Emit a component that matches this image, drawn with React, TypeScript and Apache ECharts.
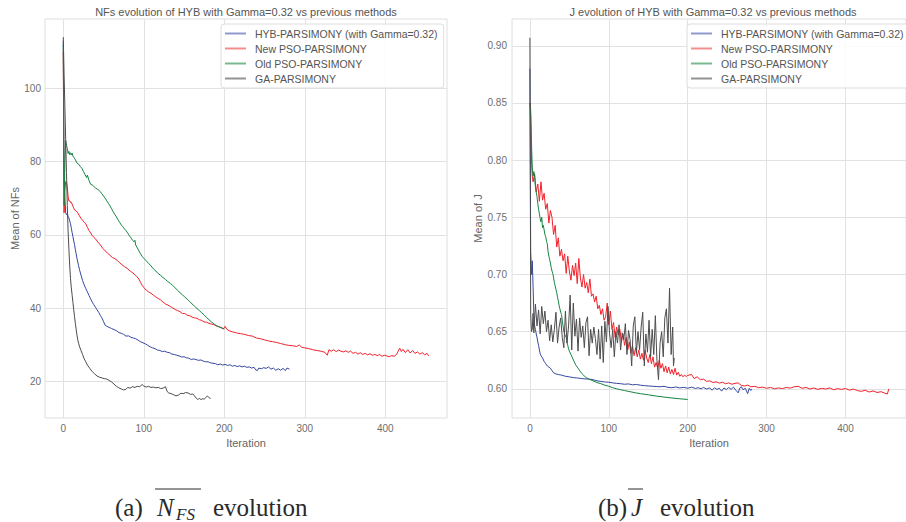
import React, { useEffect, useRef } from "react";
import * as echarts from "echarts";

const seriesNames = [
  "HYB-PARSIMONY (with Gamma=0.32)",
  "New PSO-PARSIMONY",
  "Old PSO-PARSIMONY",
  "GA-PARSIMONY",
];
const lineColors = ["#34489e", "#f3202a", "#138541", "#4d4d4d"];
const legendColors = ["#8e9acb", "#f48e8e", "#79b990", "#939393"];

const xTicks = [0, 100, 200, 300, 400];
const nfsTicks = [20, 40, 60, 80, 100];
const jTicks = [0.6, 0.65, 0.7, 0.75, 0.8, 0.85, 0.9];

const titleNfs = "NFs evolution of HYB with Gamma=0.32 vs previous methods";
const titleJ = "J evolution of HYB with Gamma=0.32 vs previous methods";

// ---- Mean of NFs (left) : [iteration, value]
const hybNfs = [
  [0, 113], [1, 74.5], [2, 70], [3, 66], [4, 65.5], [5, 65.8], [6, 65], [7, 64.6], [8, 63.8], [9, 63],
  [10, 61.8], [11, 60.6], [12, 59.5], [13, 58.3], [14, 57.3], [15, 56], [16, 54.8], [17, 53.6], [18, 52.6],
  [19, 51.6], [20, 50.6], [22, 49], [24, 47.5], [26, 46.3], [28, 45.3], [30, 44.4], [32, 43.4], [34, 42.5],
  [36, 41.6], [38, 40.9], [40, 40.2], [42, 39.5], [44, 38.8], [46, 38], [48, 37.3], [50, 36.3], [52, 35.3],
  [54, 35], [57, 34.7], [60, 34.4], [63, 34.1], [66, 33.8], [69, 33.3], [72, 33.1], [75, 32.8], [78, 32.3],
  [81, 32.4], [84, 32], [87, 31.8], [90, 31.6], [93, 31.2], [96, 30.8], [99, 30.5], [102, 30.2], [105, 29.8],
  [108, 29.4], [111, 29.1], [114, 28.9], [117, 28.5], [120, 28.4], [123, 28.1], [126, 28.2], [129, 27.9],
  [132, 27.8], [135, 27.4], [138, 27.3], [141, 27.1], [144, 26.9], [147, 26.6], [150, 26.7], [153, 26.4],
  [156, 26.3], [159, 25.9], [162, 26.1], [165, 25.9], [168, 25.7], [171, 25.8], [174, 25.5], [177, 25.3],
  [180, 25.3], [183, 25], [186, 24.9], [189, 24.8], [192, 24.5], [195, 24.7], [198, 24.4], [201, 24.6],
  [204, 24.3], [207, 24.5], [210, 24.1], [213, 24.3], [216, 24], [219, 24.2], [222, 23.9], [225, 24.1],
  [228, 23.8], [231, 23.9], [234, 23.6], [237, 23.8], [239, 23.1], [241, 22.9], [243, 23.6], [246, 23.4],
  [249, 23.7], [252, 23.5], [255, 23.9], [258, 23.3], [261, 23.6], [264, 23.0], [267, 23.4], [270, 23.0],
  [273, 23.5], [276, 22.9], [278, 23.6], [281, 23.3],
];

const newPsoNfs = [
  [0, 110], [1, 66], [2, 72], [3, 74.6], [4, 74.4], [5, 73], [6, 70.5], [7, 69.2], [8, 69.3], [9, 68.8],
  [10, 68.9], [12, 67.8], [14, 66.8], [16, 66.5], [18, 66], [20, 65.2], [22, 64.5], [24, 64], [26, 63.4],
  [28, 63], [30, 62], [32, 61.2], [34, 60.5], [36, 59.8], [38, 59.3], [40, 58.9], [43, 58], [46, 57.3],
  [49, 56.3], [52, 55.6], [55, 55], [58, 54.4], [61, 53.8], [64, 53.5], [67, 53], [70, 52.4], [73, 51.8],
  [76, 51.3], [79, 50.9], [82, 50.3], [85, 49.8], [88, 49.3], [91, 48.7], [94, 47.9], [96, 47], [98, 46.2],
  [100, 45.6], [103, 44.9], [106, 44.4], [109, 44], [112, 43.5], [115, 43], [118, 42.6], [121, 42.2],
  [124, 41.6], [127, 41.1], [130, 40.8], [133, 40.4], [136, 40], [139, 39.6], [142, 39.3], [145, 39],
  [148, 38.5], [151, 38.5], [154, 38], [157, 37.9], [160, 37.5], [163, 37.3], [166, 37.2], [169, 36.8],
  [172, 36.6], [175, 36.2], [178, 36.1], [181, 35.8], [184, 35.6], [187, 35.5], [190, 35.1], [193, 34.9],
  [196, 34.7], [199, 34.3], [201, 35], [203, 34.2], [206, 33.8], [210, 33.5], [215, 33.2], [220, 33],
  [225, 32.8], [230, 32.5], [235, 32.3], [240, 31.8], [245, 31.6], [250, 31.3], [255, 31], [260, 30.8],
  [265, 30.6], [270, 30.3], [275, 30], [280, 29.8], [285, 29.7], [290, 29.5], [293, 29.9], [296, 29.3],
  [300, 29.1], [305, 28.9], [310, 28.6], [315, 28.4], [320, 28.2], [325, 27.9], [328, 27.1], [330, 28.6],
  [333, 28.2], [336, 28.6], [339, 28.1], [342, 28.5], [345, 28.2], [348, 28.0], [351, 28.3], [354, 27.9],
  [357, 28.2], [360, 27.6], [363, 27.9], [366, 27.4], [369, 27.8], [372, 27.3], [375, 27.6], [378, 27.2],
  [381, 27.5], [384, 27.1], [387, 27.3], [390, 27.0], [393, 27.3], [396, 26.8], [399, 27.1], [402, 26.9],
  [405, 26.7], [408, 27.0], [411, 26.8], [414, 27.3], [416, 28.2], [418, 29.0], [420, 28.1], [422, 28.7],
  [425, 27.8], [428, 28.6], [431, 27.7], [434, 28.4], [437, 27.6], [440, 28.0], [443, 27.4], [446, 27.8],
  [449, 27.2], [452, 27.6], [454, 26.9],
];

const oldPsoNfs = [
  [0, 112], [1, 68], [2, 80], [3, 85.8], [4, 84.5], [5, 83.5], [6, 82.2], [7, 82.8], [8, 81.9], [9, 82.4],
  [10, 81.8], [11, 82.3], [12, 81.5], [13, 81.2], [15, 80.5], [17, 79.6], [19, 79.3], [21, 78.7], [23, 78.2],
  [25, 77.3], [27, 76.5], [29, 75.6], [30, 76.3], [32, 74.8], [34, 73.8], [36, 73.6], [38, 73.2], [40, 72.8],
  [42, 72.5], [44, 72.2], [46, 71.8], [48, 71.2], [50, 70.6], [52, 70], [54, 69.3], [56, 68.6], [58, 67.9],
  [60, 67.1], [62, 66.3], [64, 65.6], [66, 64.9], [68, 64.1], [70, 63.4], [72, 62.7], [74, 62.2], [76, 61.6],
  [78, 61.1], [80, 60.5], [82, 59.8], [84, 59.2], [86, 58.5], [88, 58.1], [89, 58.5], [90, 57.2], [92, 56.4],
  [94, 55.6], [96, 54.8], [98, 54.1], [100, 53.6], [103, 52.9], [106, 52.2], [109, 51.5], [112, 50.7],
  [115, 50.1], [118, 49.4], [121, 48.9], [124, 48.3], [127, 47.8], [130, 47.2], [133, 46.7], [136, 46.2],
  [139, 45.5], [142, 44.8], [145, 44.2], [148, 43.6], [151, 43], [154, 42.4], [157, 41.8], [160, 41.1],
  [163, 40.5], [166, 39.9], [169, 39.3], [172, 38.7], [175, 38.1], [178, 37.4], [181, 36.8], [184, 36.2],
  [187, 35.7], [190, 35.2], [193, 34.9], [196, 34.6], [198, 34.4], [200, 34.3],
];

const gaNfs = [
  [0, 114], [1, 104], [2, 95], [3, 86], [4, 77], [5, 68], [6, 61], [7, 56], [8, 51.5], [9, 48], [10, 45.5],
  [11, 43.5], [12, 41.5], [13, 39.5], [14, 37.6], [15, 35.8], [16, 34.2], [17, 32.6], [18, 31.3], [19, 30.4],
  [20, 29.6], [22, 28.4], [24, 27.3], [26, 26.1], [28, 25.3], [30, 24.4], [33, 23.5], [36, 22.6], [39, 22],
  [42, 21.4], [45, 21.1], [48, 20.9], [51, 20.7], [54, 20.6], [57, 20.2], [60, 19.8], [63, 19.2], [66, 18.6],
  [69, 18.2], [72, 17.9], [75, 17.6], [78, 17.8], [80, 18.3], [83, 18.1], [86, 18.5], [89, 18.3], [92, 18.6],
  [95, 18.5], [98, 19.1], [100, 18.7], [103, 18.4], [106, 18.6], [109, 18.3], [112, 18.4], [115, 18.2],
  [118, 18.3], [121, 18.0], [124, 18.1], [127, 18.5], [129, 17.2], [131, 16.8], [134, 16.6], [137, 16.3],
  [140, 16.0], [143, 16.2], [146, 16.7], [149, 16.6], [152, 16.9], [155, 16.8], [158, 16.4], [161, 16.5],
  [163, 16.0], [165, 15.4], [167, 15.0], [169, 15.3], [171, 15.0], [173, 15.2], [175, 15.1], [177, 15.5],
  [179, 16.0], [181, 15.5], [183, 15.3],
];

// ---- Mean of J (right) : [iteration, value]
const hybJ = [
  [0, 0.88], [1, 0.72], [2, 0.7], [3, 0.712], [4, 0.69], [5, 0.665], [6, 0.655], [7, 0.652], [8, 0.648],
  [9, 0.645], [10, 0.641], [11, 0.638], [12, 0.634], [13, 0.631], [14, 0.629], [16, 0.627], [18, 0.624],
  [20, 0.622], [22, 0.62], [24, 0.619], [26, 0.618], [28, 0.616], [30, 0.614], [33, 0.613], [36, 0.6125],
  [40, 0.612], [45, 0.611], [50, 0.6105], [55, 0.6098], [60, 0.6095], [65, 0.609], [70, 0.6087], [75, 0.6085],
  [80, 0.608], [85, 0.607], [90, 0.6065], [95, 0.606], [100, 0.6058], [105, 0.6052], [110, 0.6048],
  [115, 0.6045], [120, 0.604], [125, 0.6043], [130, 0.6035], [135, 0.6038], [140, 0.6032], [145, 0.6028],
  [150, 0.6025], [155, 0.6023], [160, 0.602], [165, 0.6018], [170, 0.6022], [175, 0.6013], [180, 0.601],
  [185, 0.6016], [190, 0.6008], [195, 0.6013], [200, 0.6005], [205, 0.6015], [210, 0.6003], [213, 0.601],
  [217, 0.6], [220, 0.6012], [224, 0.5998], [228, 0.6008], [231, 0.5988], [234, 0.601], [237, 0.5995],
  [240, 0.6005], [243, 0.598], [246, 0.6008], [249, 0.5993], [252, 0.6012], [255, 0.5995], [258, 0.6015],
  [261, 0.5988], [264, 0.5965], [266, 0.6008], [268, 0.6018], [270, 0.5992], [273, 0.6005], [276, 0.5958],
  [278, 0.6005], [280, 0.5985], [281, 0.6],
];

const newPsoJ = [
  [0, 0.85], [1, 0.844], [2, 0.8], [3, 0.786], [4, 0.781], [6, 0.788], [8, 0.772], [10, 0.779], [12, 0.764],
  [14, 0.781], [16, 0.765], [18, 0.771], [20, 0.757], [22, 0.762], [24, 0.745], [26, 0.756], [28, 0.75],
  [30, 0.735], [32, 0.743], [34, 0.724], [36, 0.732], [38, 0.716], [40, 0.722], [42, 0.712], [44, 0.718],
  [46, 0.701], [48, 0.716], [50, 0.703], [52, 0.695], [54, 0.708], [56, 0.699], [58, 0.71], [60, 0.692],
  [62, 0.714], [64, 0.697], [66, 0.689], [68, 0.7], [70, 0.688], [72, 0.693], [74, 0.684], [76, 0.696],
  [78, 0.681], [80, 0.683], [82, 0.676], [84, 0.681], [86, 0.67], [88, 0.673], [90, 0.665], [92, 0.67],
  [94, 0.66], [96, 0.663], [98, 0.675], [100, 0.656], [102, 0.668], [104, 0.652], [106, 0.658], [108, 0.645],
  [110, 0.654], [112, 0.647], [114, 0.652], [116, 0.641], [118, 0.648], [120, 0.638], [122, 0.645],
  [124, 0.634], [126, 0.641], [128, 0.631], [130, 0.638], [132, 0.629], [134, 0.636], [136, 0.628],
  [138, 0.634], [140, 0.626], [142, 0.631], [144, 0.625], [146, 0.634], [148, 0.627], [150, 0.623],
  [152, 0.63], [154, 0.622], [156, 0.628], [158, 0.619], [160, 0.623], [162, 0.618], [164, 0.625],
  [166, 0.618], [168, 0.622], [170, 0.615], [172, 0.62], [174, 0.614], [176, 0.619], [178, 0.613],
  [180, 0.617], [182, 0.6125], [184, 0.618], [186, 0.612], [188, 0.6145], [190, 0.611], [192, 0.6125],
  [194, 0.6105], [196, 0.612], [198, 0.6108], [200, 0.6118], [205, 0.6125], [208, 0.609], [212, 0.6105],
  [216, 0.608], [220, 0.6085], [224, 0.6065], [228, 0.607], [232, 0.6055], [236, 0.6062], [240, 0.605],
  [244, 0.6058], [248, 0.6045], [252, 0.6052], [256, 0.604], [260, 0.6048], [264, 0.6052], [268, 0.603],
  [272, 0.6025], [276, 0.6033], [280, 0.6018], [285, 0.6022], [290, 0.601], [295, 0.6015], [300, 0.6005],
  [305, 0.6012], [310, 0.6], [315, 0.6008], [320, 0.6002], [325, 0.6012], [330, 0.6006], [335, 0.6018],
  [340, 0.6022], [345, 0.6005], [350, 0.6012], [355, 0.5998], [360, 0.6008], [365, 0.5995], [370, 0.6005],
  [375, 0.5998], [380, 0.6008], [385, 0.5992], [390, 0.6002], [395, 0.5995], [400, 0.6003], [405, 0.5988],
  [410, 0.5998], [415, 0.5985], [420, 0.5978], [425, 0.5988], [430, 0.5972], [435, 0.5982], [440, 0.5968],
  [445, 0.5975], [450, 0.5962], [453, 0.5955], [455, 0.6],
];

const oldPsoJ = [
  [0, 0.85], [1, 0.839], [2, 0.815], [3, 0.793], [4, 0.786], [5, 0.79], [6, 0.785], [7, 0.776], [8, 0.772],
  [9, 0.768], [10, 0.762], [11, 0.757], [12, 0.753], [13, 0.749], [14, 0.746], [15, 0.75], [16, 0.741],
  [17, 0.743], [18, 0.739], [19, 0.735], [20, 0.733], [21, 0.729], [22, 0.727], [23, 0.72], [24, 0.716],
  [25, 0.713], [26, 0.71], [27, 0.706], [28, 0.703], [29, 0.701], [30, 0.697], [31, 0.693], [32, 0.69],
  [33, 0.687], [34, 0.684], [35, 0.68], [36, 0.677], [37, 0.673], [38, 0.67], [39, 0.667], [40, 0.665],
  [41, 0.66], [42, 0.655], [43, 0.65], [44, 0.648], [45, 0.646], [46, 0.645], [47, 0.641], [48, 0.638],
  [49, 0.635], [50, 0.633], [52, 0.63], [54, 0.627], [56, 0.624], [58, 0.621], [60, 0.619], [62, 0.617],
  [65, 0.614], [68, 0.612], [70, 0.6105], [72, 0.6096], [75, 0.6085], [80, 0.607], [85, 0.6055],
  [90, 0.6045], [95, 0.6032], [100, 0.6022], [105, 0.601], [110, 0.6], [115, 0.5992], [120, 0.5985],
  [127, 0.5975], [134, 0.5965], [140, 0.5958], [150, 0.5948], [160, 0.5937], [170, 0.5928], [180, 0.592],
  [190, 0.5913], [200, 0.5907],
];

const gaJ = [
  [0, 0.907], [1, 0.665], [2, 0.65], [3, 0.652], [4, 0.666], [5, 0.649], [7, 0.674], [9, 0.655], [11, 0.669],
  [13, 0.648], [15, 0.672], [17, 0.657], [19, 0.668], [21, 0.65], [23, 0.66], [25, 0.642], [27, 0.656],
  [29, 0.641], [31, 0.652], [33, 0.667], [35, 0.64], [37, 0.654], [39, 0.662], [41, 0.645], [43, 0.636],
  [45, 0.668], [47, 0.64], [49, 0.655], [51, 0.682], [53, 0.634], [55, 0.675], [57, 0.646], [59, 0.661],
  [61, 0.633], [63, 0.662], [65, 0.645], [67, 0.655], [69, 0.636], [71, 0.658], [73, 0.663], [75, 0.629],
  [77, 0.652], [79, 0.64], [81, 0.654], [83, 0.644], [85, 0.63], [87, 0.652], [89, 0.626], [91, 0.655],
  [93, 0.623], [95, 0.659], [97, 0.641], [99, 0.672], [101, 0.648], [103, 0.636], [105, 0.652], [107, 0.628],
  [109, 0.65], [111, 0.64], [113, 0.656], [115, 0.634], [117, 0.649], [119, 0.643], [121, 0.657], [123, 0.63],
  [125, 0.651], [127, 0.643], [129, 0.62], [131, 0.655], [133, 0.663], [135, 0.631], [137, 0.65], [139, 0.634],
  [141, 0.654], [143, 0.667], [145, 0.62], [147, 0.648], [149, 0.632], [151, 0.66], [153, 0.628], [155, 0.652],
  [157, 0.63], [159, 0.664], [161, 0.625], [163, 0.608], [165, 0.64], [167, 0.65], [169, 0.628], [171, 0.662],
  [173, 0.67], [175, 0.64], [177, 0.688], [179, 0.63], [181, 0.654], [182, 0.62], [183, 0.627],
];

const nfsData = [hybNfs, newPsoNfs, oldPsoNfs, gaNfs];
const jData = [hybJ, newPsoJ, oldPsoJ, gaJ];

const SANS = '"Liberation Sans", Arial, sans-serif';
const SERIF = '"Liberation Serif", "Times New Roman", serif';

function App() {
  const ref = useRef<HTMLDivElement | null>(null);

  useEffect(() => {
    if (!ref.current) return;
    const chart = echarts.init(ref.current, null, { renderer: "svg" });

    const xAxisBase = (gridIndex: number) => ({
      type: "value",
      gridIndex,
      min: -22.7,
      max: 476.7,
      name: "Iteration",
      nameLocation: "middle",
      nameGap: 15,
      nameTextStyle: { color: "#666", fontSize: 11, fontFamily: SANS },
      axisLine: { show: false },
      axisTick: { show: false, customValues: xTicks },
      axisLabel: { customValues: xTicks, color: "#6e6e6e", fontSize: 10, fontFamily: SANS, margin: 5 },
      splitLine: { show: true, lineStyle: { color: "#e2e2e2", width: 1 } },
    });

    const legendBase = (left: number) => ({
      left,
      top: 24,
      orient: "vertical",
      backgroundColor: "rgba(255,255,255,0.85)",
      borderColor: "#dddddd",
      borderWidth: 1,
      borderRadius: 3,
      padding: [3, 6, 3, 4],
      itemGap: 2,
      itemWidth: 21,
      itemHeight: 2,
      icon: "rect",
      selectedMode: false,
      textStyle: { fontSize: 10.5, color: "#555", fontFamily: SANS, lineHeight: 13, padding: [0, 0, 0, 4] },
      data: seriesNames.map((n, i) => ({ name: n, itemStyle: { color: legendColors[i] } })),
    });

    const series: any[] = [];
    nfsData.forEach((d, i) =>
      series.push({
        type: "line",
        name: seriesNames[i],
        xAxisIndex: 0,
        yAxisIndex: 0,
        data: d,
        symbol: "none",
        showSymbol: false,
        lineStyle: { width: 1, color: lineColors[i] },
        itemStyle: { color: lineColors[i] },
        z: 2 + i,
      })
    );
    jData.forEach((d, i) =>
      series.push({
        type: "line",
        name: seriesNames[i],
        xAxisIndex: 1,
        yAxisIndex: 1,
        data: d,
        symbol: "none",
        showSymbol: false,
        lineStyle: { width: 1, color: lineColors[i] },
        itemStyle: { color: lineColors[i] },
        z: 2 + i,
      })
    );

    const capStyle = { font: `25px ${SERIF}`, fill: "#2a2a2a", verticalAlign: "middle" };
    const capItalic = { font: `italic 25px ${SERIF}`, fill: "#2a2a2a", verticalAlign: "middle" };

    chart.setOption({
      animation: false,
      backgroundColor: "#ffffff",
      title: [
        {
          text: titleNfs,
          left: 246,
          top: 6,
          textAlign: "center",
          padding: 0,
          textStyle: { fontSize: 11, fontWeight: "normal", color: "#555", fontFamily: SANS },
        },
        {
          text: titleJ,
          left: 713,
          top: 6,
          textAlign: "center",
          padding: 0,
          textStyle: { fontSize: 11, fontWeight: "normal", color: "#555", fontFamily: SANS },
        },
      ],
      legend: [legendBase(221), legendBase(687)],
      grid: [
        { left: 45, top: 19, width: 402, height: 399, show: true, borderColor: "#dedede", borderWidth: 1, containLabel: false },
        { left: 512, top: 19, width: 402, height: 399, show: true, borderColor: "#dedede", borderWidth: 1, containLabel: false },
      ],
      xAxis: [xAxisBase(0), xAxisBase(1)],
      yAxis: [
        {
          type: "value",
          gridIndex: 0,
          min: 9.95,
          max: 118.95,
          name: "Mean of NFs",
          nameLocation: "middle",
          nameRotate: 90,
          nameGap: 23,
          nameTextStyle: { color: "#666", fontSize: 11, fontFamily: SANS },
          axisLine: { show: false },
          axisTick: { show: false, customValues: nfsTicks },
          axisLabel: { customValues: nfsTicks, color: "#6e6e6e", fontSize: 10, fontFamily: SANS, margin: 4 },
          splitLine: { show: true, lineStyle: { color: "#e2e2e2", width: 1 } },
        },
        {
          type: "value",
          gridIndex: 1,
          min: 0.5745,
          max: 0.9234,
          name: "Mean of J",
          nameLocation: "middle",
          nameRotate: 90,
          nameGap: 27,
          nameTextStyle: { color: "#666", fontSize: 11, fontFamily: SANS },
          axisLine: { show: false },
          axisTick: { show: false, customValues: jTicks },
          axisLabel: {
            customValues: jTicks,
            color: "#6e6e6e",
            fontSize: 10,
            fontFamily: SANS,
            margin: 5,
            formatter: (v: number) => v.toFixed(2),
          },
          splitLine: { show: true, lineStyle: { color: "#e2e2e2", width: 1 } },
        },
      ],
      series,
      graphic: [
        { type: "text", x: 115, y: 507, style: { ...capStyle, text: "(a)" } },
        { type: "text", x: 157, y: 507, style: { ...capItalic, text: "N" } },
        { type: "text", x: 176, y: 514, style: { ...capItalic, font: `italic 17px ${SERIF}`, text: "FS" } },
        { type: "line", shape: { x1: 155, y1: 489, x2: 201, y2: 489 }, style: { stroke: "#2a2a2a", lineWidth: 1 } },
        { type: "text", x: 213, y: 507, style: { ...capStyle, text: "evolution" } },
        { type: "text", x: 598, y: 507, style: { ...capStyle, text: "(b)" } },
        { type: "text", x: 631, y: 507, style: { ...capItalic, text: "J" } },
        { type: "line", shape: { x1: 628, y1: 489, x2: 643, y2: 489 }, style: { stroke: "#2a2a2a", lineWidth: 1 } },
        { type: "text", x: 660, y: 507, style: { ...capStyle, text: "evolution" } },
      ],
    });

    return () => chart.dispose();
  }, []);

  return (
    <div
      ref={ref}
      style={{ position: "fixed", left: 0, top: 0, width: 906, height: 522, background: "#fff" }}
    />
  );
}

export default App;
